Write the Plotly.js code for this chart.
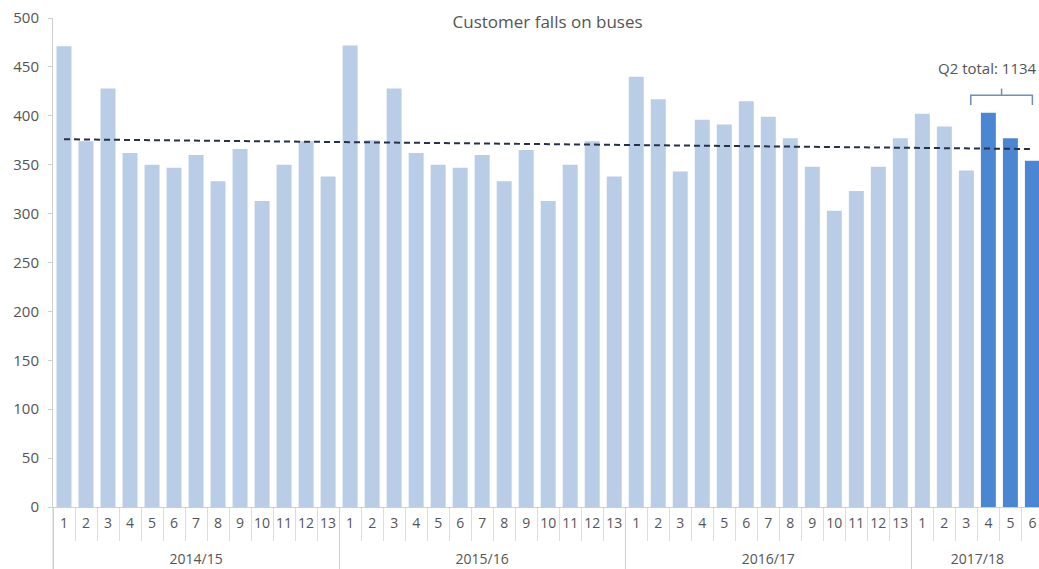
<!DOCTYPE html>
<html>
<head>
<meta charset="utf-8">
<script src="https://cdn.plot.ly/plotly-3.0.1.min.js"></script>
<style>html,body{margin:0;padding:0;background:#fff;}#chart{width:1039px;height:569px;}</style>
</head>
<body>
<div id="chart"></div>
<script>
// ---- data ----
const years = ['2014/15', '2015/16', '2016/17', '2017/18'];
const periodsPerYear = [13, 13, 13, 6];
const falls2014 = [471, 374, 428, 362, 350, 347, 360, 333, 366, 313, 350, 374, 338];
const falls2015 = [472, 375, 428, 362, 350, 347, 360, 333, 365, 313, 350, 374, 338];
const falls2016 = [440, 417, 343, 396, 391, 415, 399, 377, 348, 303, 323, 348, 377];
const falls2017 = [402, 389, 344, 403, 377, 354];
const highlightYear = '2017/18';
const highlightPeriods = ['4', '5', '6'];
const trendY = [376, 366];

// ---- build ----
const seriesByYear = [falls2014, falls2015, falls2016, falls2017];
const xYear = [], xPeriod = [], yVals = [], colors = [];
years.forEach((yr, i) => {
  for (let p = 1; p <= periodsPerYear[i]; p++) {
    xYear.push(yr);
    // trailing blank line pushes the year row further down
    xPeriod.push(String(p) + '<br>&nbsp;');
    yVals.push(seriesByYear[i][p - 1]);
    const hl = yr === highlightYear && highlightPeriods.includes(String(p));
    colors.push(hl ? '#4a86d2' : '#b9cde6');
  }
});
const n = yVals.length;
const hlIdx = [];
colors.forEach((c, i) => { if (c === '#4a86d2') hlIdx.push(i); });
const q2Total = hlIdx.reduce((s, i) => s + yVals[i], 0);

const xRange = [-0.5, 44.3];
const fontFam = '"Open Sans", Lato, sans-serif';

const bars = {
  type: 'bar',
  x: [xYear, xPeriod],
  y: yVals,
  marker: { color: colors, line: { width: 0 } },
  hoverinfo: 'y',
  showlegend: false
};
const trend = {
  type: 'scatter',
  mode: 'lines',
  xaxis: 'x2',
  x: [0, n - 1],
  y: trendY,
  line: { color: '#27304a', width: 2, dash: '6px,4px' },
  showlegend: false,
  hoverinfo: 'skip'
};

const bL = hlIdx[0] - 0.8, bR = hlIdx[hlIdx.length - 1], bM = (bL + bR) / 2;
const bracketY = 421, bracketDrop = 10, bracketRise = 7;

const layout = {
  width: 1039, height: 569,
  margin: { l: 53, r: 0, t: 18, b: 62 },
  paper_bgcolor: '#fff', plot_bgcolor: '#fff',
  font: { family: fontFam, color: '#555', size: 13 },
  title: { text: 'Customer falls on buses', x: 0.527, xref: 'container', xanchor: 'center', y: 0.962, yanchor: 'middle', yref: 'container', font: { size: 17, color: '#555', family: fontFam } },
  bargap: 0.32,
  xaxis: {
    type: 'multicategory',
    range: xRange,
    showline: true, linecolor: '#cfcfcf', linewidth: 1,
    ticks: 'outside', tickson: 'boundaries', ticklen: 33, tickcolor: '#dcdcdc', tickwidth: 1,
    tickangle: 0, ticklabelstandoff: 3,
    showdividers: true, dividercolor: '#cfcfcf', dividerwidth: 1,
    tickfont: { size: 14, color: '#555' },
    showgrid: false, zeroline: false, fixedrange: true
  },
  xaxis2: { overlaying: 'x', range: xRange, visible: false, anchor: 'y' },
  yaxis: {
    range: [0, 500], dtick: 50,
    showline: true, linecolor: '#cfcfcf', linewidth: 1,
    ticks: 'outside', ticklen: 4, tickcolor: '#cfcfcf',
    showgrid: false, zeroline: false,
    tickfont: { size: 15, color: '#555' }, ticklabelstandoff: 6
  },
  shapes: [
    { type: 'path', xref: 'x2', yref: 'y',
      path: `M ${bL},${bracketY - bracketDrop} L ${bL},${bracketY} L ${bR},${bracketY} L ${bR},${bracketY - bracketDrop} M ${bM},${bracketY} L ${bM},${bracketY + bracketRise}`,
      line: { color: '#6f8fb8', width: 1.5 } },
    { type: 'line', xref: 'paper', yref: 'paper', x0: 0, x1: 0, y0: 0, y1: -62 / 489, line: { color: '#cfcfcf', width: 1 } }
  ],
  annotations: [
    { text: 'Q2 total: ' + q2Total, xref: 'paper', x: 1, xanchor: 'right', yref: 'y', y: 449, yanchor: 'middle', showarrow: false, font: { size: 15, color: '#555', family: fontFam } }
  ]
};

Plotly.newPlot('chart', [bars, trend], layout, { displayModeBar: false, staticPlot: true });
</script>
</body>
</html>
